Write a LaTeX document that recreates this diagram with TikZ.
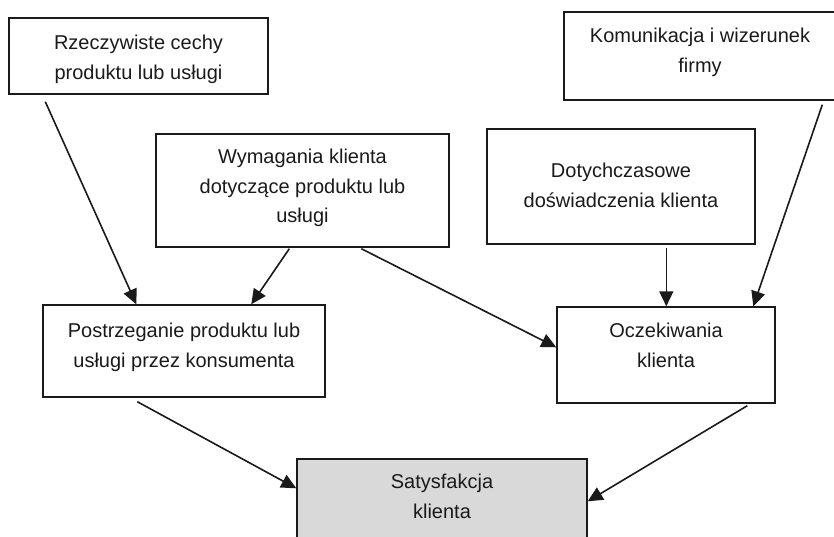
\documentclass[tikz,border=0pt]{standalone}
\usepackage{fontspec}
\setmainfont{Liberation Sans}
\usetikzlibrary{arrows.meta,calc}
\definecolor{ink}{HTML}{1A1A1A}
\definecolor{satfill}{HTML}{D9D9D9}
\begin{document}
\begin{tikzpicture}[x=1pt,y=-1pt,
  box/.style={draw=ink, line width=1.4pt, rectangle, inner sep=0pt},
  txt/.style={font=\fontsize{20}{29.5}\selectfont, text=ink, align=center, inner sep=0pt, anchor=north},
  arr/.style={draw=ink, line width=1.6pt, -{Triangle[length=15pt,width=14pt]}}]
\useasboundingbox (0,0) rectangle (834,536);
\clip (0,0) rectangle (834,536);
\fill[white] (0,0) rectangle (834,536);

\node[box, minimum width=259pt, minimum height=76pt] (b1) at (138.5,56) {};
\node[txt] (t1) at (138.5,35) {Rzeczywiste cechy\\produktu lub usługi};

\node[box, minimum width=272pt, minimum height=88pt] (b2) at (700,56) {};
\node[txt] (t2) at (700,28) {Komunikacja i wizerunek\\firmy};

\node[box, minimum width=293pt, minimum height=113pt] (b3) at (302.5,190.5) {};
\node[txt] (t3) at (302.5,149) {Wymagania klienta\\dotyczące produktu lub\\usługi};

\node[box, minimum width=268pt, minimum height=115pt] (b4) at (621,186.5) {};
\node[txt] (t4) at (621,163) {Dotychczasowe\\doświadczenia klienta};

\node[box, minimum width=282pt, minimum height=92pt] (b5) at (184,351) {};
\node[txt] (t5) at (184,323) {Postrzeganie produktu lub\\usługi przez konsumenta};

\node[box, minimum width=218pt, minimum height=96pt] (b6) at (666,355) {};
\node[txt] (t6) at (666,323) {Oczekiwania\\klienta};

\node[box, fill=satfill, minimum width=290pt, minimum height=100pt] (b7) at (442,509) {};
\node[txt] (t7) at (442,474) {Satysfakcja\\klienta};

\draw[arr] ($(b1.south west)+(37,7)$) -- ($(b5.north west)+(94,0)$);
\draw[arr] ($(b3.south west)+(134,1)$) -- ($(b5.north west)+(209,0)$);
\draw[arr] ($(b3.south west)+(206,1)$) -- ($(b6.north west)+(0,41)$);
\draw[arr] ($(b4.south west)+(180,3)$) -- ($(b6.north west)+(110,0)$);
\draw[arr] ($(b2.south west)+(259,4)$) -- ($(b6.north west)+(197,0)$);
\draw[arr] ($(b5.south west)+(95,4)$) -- ($(b7.north west)+(0,30)$);
\draw[arr] ($(b6.south west)+(191,2)$) -- ($(b7.north east)+(0,43)$);
\end{tikzpicture}
\end{document}
